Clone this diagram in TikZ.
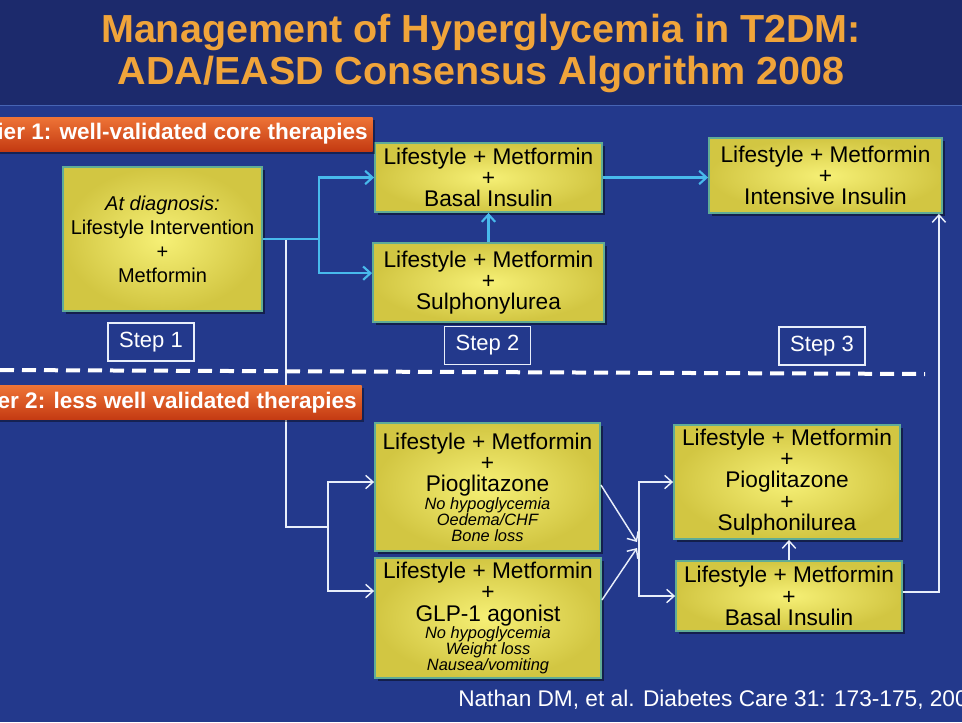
\documentclass[tikz,border=0pt]{standalone}
\usepackage{fontspec}
\setmainfont{Liberation Sans}
\usetikzlibrary{arrows.meta,shadows}
\definecolor{mainbg}{RGB}{35,57,140}
\definecolor{titlebg}{RGB}{28,42,108}
\definecolor{sepblue}{RGB}{70,100,180}
\definecolor{titleor}{RGB}{240,164,58}
\definecolor{bantop}{RGB}{238,116,54}
\definecolor{banbot}{RGB}{196,58,18}
\definecolor{yin}{RGB}{246,240,118}
\definecolor{yout}{RGB}{210,198,66}
\definecolor{yedge}{RGB}{96,172,150}
\definecolor{cyanc}{RGB}{72,186,236}
\definecolor{wcol}{RGB}{232,238,250}
\newcommand\smallital{\itshape\fontsize{12.3}{12}\selectfont}
\begin{document}
\begin{tikzpicture}[x=0.75pt,y=-0.75pt,
  wh/.style 2 args={minimum width=#1*0.75pt, minimum height=#2*0.75pt},
  ybox/.style={draw=yedge, line width=1.4pt, inner color=yin, outer color=yout,
    inner sep=0pt, align=center, text=black, font=\fontsize{17}{16}\selectfont,
    drop shadow={shadow xshift=2.5pt, shadow yshift=-2.5pt, fill=black, opacity=0.45}},
  smallbox/.style={ybox, font=\fontsize{15}{18}\selectfont},
  banner/.style={top color=bantop, bottom color=banbot, text=white,
    font=\bfseries\fontsize{16.9}{18}\selectfont, inner xsep=3.75pt, inner ysep=0pt,
    minimum height=25.5pt, anchor=east,
    drop shadow={shadow xshift=2pt, shadow yshift=-2pt, fill=black, opacity=0.4}},
  stepbox/.style={draw=wcol, line width=0.8pt, text=white, font=\fontsize{16.5}{18}\selectfont,
    minimum width=64.5pt, minimum height=28.5pt, inner sep=0pt},
  titletext/.style={text=titleor, font=\bfseries\fontsize{28.5}{32}\selectfont, anchor=base},
  cyanline/.style={draw=cyanc, line width=1.6pt},
  cyanarrow/.style={cyanline, -{Straight Barb[length=5.5pt,width=10pt]}},
  whiteline/.style={draw=wcol, line width=1.1pt},
  whitearrow/.style={whiteline, -{Straight Barb[length=5.5pt,width=10pt]}},
  dashline/.style={draw=white, line width=3pt, dash pattern=on 10.5pt off 6pt}
]
\useasboundingbox (0,0) rectangle (962,722);
\clip (0,0) rectangle (962,722);
\fill[mainbg] (0,0) rectangle (962,722);
\fill[titlebg] (0,0) rectangle (962,105);
\draw[sepblue, line width=1pt] (0,105.5) -- (962,105.5);

% title
\node[titletext] (t1) at (481,42) {\scalebox{1.04}[1.03]{Management of Hyperglycemia in T2DM:}};
\node[titletext] (t2) at (481,84) {\scalebox{1.04}[1.03]{ADA/EASD Consensus Algorithm 2008}};

% boxes
\node[smallbox, wh={199}{144}] (a) at (162.5,239)
  {{\itshape At diagnosis:}\\Lifestyle Intervention\\+\\Metformin};
\node[ybox, wh={227}{69}] (b1) at (488.5,177.5) {Lifestyle + Metformin\\+\\Basal Insulin};
\node[ybox, wh={231}{79}] (b2) at (488.5,282.5) {Lifestyle + Metformin\\+\\Sulphonylurea};
\node[ybox, wh={233}{75}] (c) at (825.5,175.5) {Lifestyle + Metformin\\+\\Intensive Insulin};
\node[ybox, wh={225}{128}] (d1) at (487.5,487) {Lifestyle + Metformin\\+\\Pioglitazone\\[-3pt]
  {\smallital No hypoglycemia}\\[-4pt]{\smallital Oedema/CHF}\\[-4pt]{\smallital Bone loss}};
\node[ybox, wh={226}{120}] (d2) at (488,618) {Lifestyle + Metformin\\+\\GLP-1 agonist\\[-3pt]
  {\smallital No hypoglycemia}\\[-4pt]{\smallital Weight loss}\\[-4pt]{\smallital Nausea/vomiting}};
\node[ybox, wh={226}{114}] (e1) at (787,482) {Lifestyle + Metformin\\+\\Pioglitazone\\+\\Sulphonilurea};
\node[ybox, wh={226}{70}] (e2) at (789,596) {Lifestyle + Metformin\\+\\Basal Insulin};

% step labels
\node[stepbox] (s1) at (151,342) {Step 1};
\node[stepbox] (s2) at (487.5,345.5) {Step 2};
\node[stepbox] (s3) at (822,346) {Step 3};

% tier 1 connectors
\coordinate (j1) at (319,239);
\coordinate (j2) at (286,239);
\coordinate (j3) at (328,527);
\draw[whiteline] (j2) |- (j3);
\draw[whitearrow] (j3) |- ([yshift=3.75pt]d1.west);
\draw[whitearrow] (j3) |- (d2.west |- 0,591);
\draw[cyanline] (a.east) -- (j1);
\draw[cyanarrow] (j1) |- (b1.west);
\draw[cyanarrow] (j1) |- ([yshift=7pt]b2.west);
\draw[cyanarrow] (b2.north) -- (b1.south);
\draw[cyanarrow] (b1.east) -- (b1.east -| c.west);

% tier 2 connectors
\coordinate (m1) at (637,542);
\coordinate (m2) at (637,548);
\coordinate (j4) at (639,545);
\draw[whitearrow] (d1.east |- 0,485) -- (m1);
\draw[whitearrow] (d2.east |- 0,600) -- (m2);
\draw[whitearrow] (j4) |- (e1.west);
\draw[whitearrow] (j4) |- (e2.west);
\draw[whitearrow] (e2.north) -- (e2.north |- e1.south);
\coordinate (cin) at ([xshift=-3pt]c.south east);
\draw[whitearrow] ([yshift=3pt]e2.east) -| (cin);

% separator
\draw[dashline] (0,370) -- (925,374);

% tier banners
\node[banner] (tier1) at (373,134) {Tier 1: well-validated core therapies};
\node[banner] (tier2) at (362,402.5) {Tier 2: less well validated therapies};

% citation
\node[anchor=base west, text=white, font=\fontsize{17}{18}\selectfont, inner sep=0pt] (cite)
  at (458,706) {Nathan DM, et al. Diabetes Care 31: 173-175, 2008};
\end{tikzpicture}
\end{document}
